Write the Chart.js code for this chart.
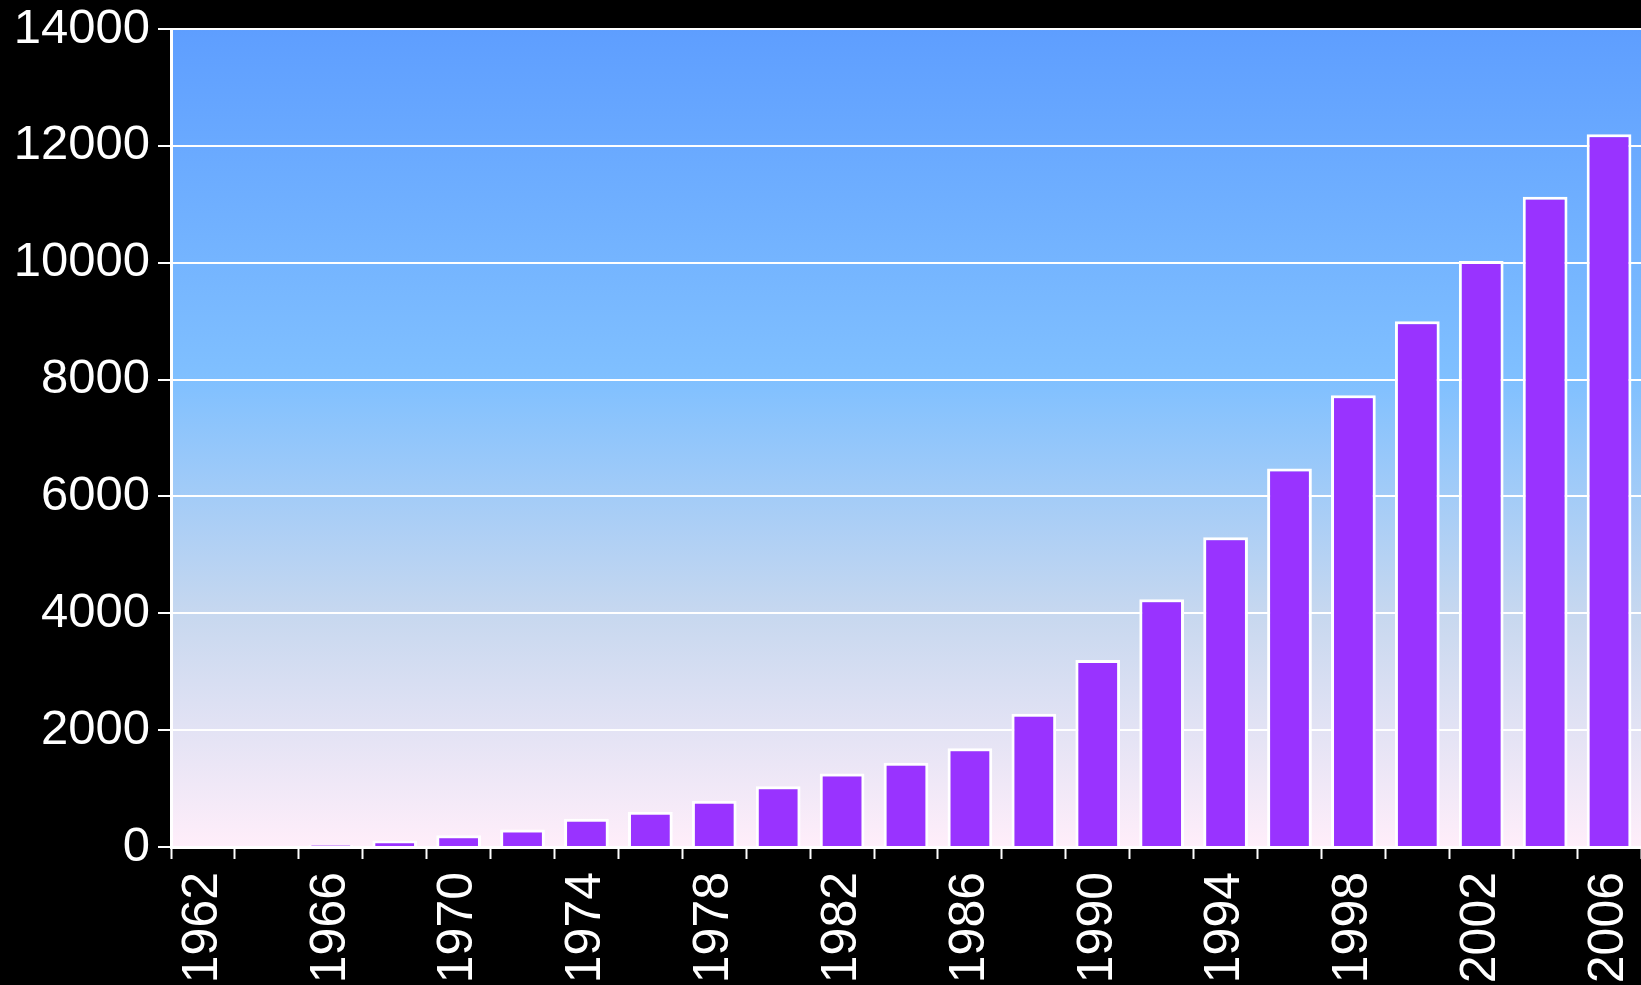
<!DOCTYPE html>
<html>
<head>
<meta charset="utf-8">
<script src="https://cdn.jsdelivr.net/npm/chart.js@4"></script>
<style>
  html, body { margin: 0; padding: 0; background: #000; overflow: hidden; }
  #wrap { width: 1641px; height: 985px; position: relative; }
</style>
</head>
<body>
<div id="wrap"><canvas id="grafica"></canvas></div>
<script>
// datos
const anios = ['1962','1964','1966','1968','1970','1972','1974','1976','1978','1980','1982','1984',
               '1986','1988','1990','1992','1994','1996','1998','2000','2002','2004','2006'];
const valores = [0, 0, 30, 110, 200, 300, 485, 605, 790, 1040, 1260, 1440,
                 1690, 2280, 3200, 4240, 5300, 6480, 7730, 9000, 10030, 11130, 12200];
const yMax = 14000;
const yPaso = 2000;

const fuente = "'Liberation Sans', Arial, sans-serif";

// fondo negro y degradado dentro del area del grafico
const fondo = {
  id: 'fondo',
  beforeDraw(chart) {
    const c = chart.ctx;
    const a = chart.chartArea;
    c.save();
    c.fillStyle = '#000';
    c.fillRect(0, 0, chart.width, chart.height);
    const g = c.createLinearGradient(0, a.top, 0, a.bottom);
    g.addColorStop(0, '#5e9eff');
    g.addColorStop(0.43, '#80c0ff');
    g.addColorStop(0.72, '#c8d8ef');
    g.addColorStop(1, '#ffeefa');
    c.fillStyle = g;
    c.fillRect(a.left, a.top, a.right - a.left, a.bottom - a.top);
    c.restore();
  }
};

const ctx = document.getElementById('grafica').getContext('2d');
const miGrafica = new Chart(ctx, {
  type: 'bar',
  data: {
    labels: anios,
    datasets: [{
      data: valores,
      backgroundColor: '#9933ff',
      borderColor: '#ffffff',
      borderWidth: 3,
      barPercentage: 0.7,
      categoryPercentage: 1
    }]
  },
  options: {
    responsive: true,
    maintainAspectRatio: false,
    animation: false,
    layout: { padding: { left: 0, top: 0, right: 0, bottom: 0 } },
    plugins: {
      legend: { display: false },
      tooltip: { enabled: false }
    },
    scales: {
      x: {
        afterFit(s) { s.height = 138; s.paddingLeft = 0; s.paddingRight = 0; },
        grid: {
          offset: true,
          drawOnChartArea: false,
          drawTicks: true,
          tickLength: 12,
          tickWidth: 2,
          tickColor: '#ffffff'
        },
        border: { color: '#ffffff', width: 3 },
        ticks: {
          autoSkip: false,
          maxRotation: 90,
          minRotation: 90,
          padding: 13,
          color: '#ffffff',
          font: { family: fuente, size: 50 },
          callback(v, i) { return i % 2 === 0 ? this.getLabelForValue(v) : ''; }
        }
      },
      y: {
        min: 0,
        max: yMax,
        afterFit(s) { s.width = 171; s.paddingTop = 29; s.paddingBottom = 0; },
        grid: {
          color: '#ffffff',
          lineWidth: 2,
          tickLength: 13,
          tickColor: '#ffffff'
        },
        border: { color: '#ffffff', width: 3 },
        ticks: {
          stepSize: yPaso,
          padding: 8,
          color: '#ffffff',
          font: { family: fuente, size: 49 },
          callback(v) { return String(v); }
        }
      }
    }
  },
  plugins: [fondo]
});
</script>
</body>
</html>
